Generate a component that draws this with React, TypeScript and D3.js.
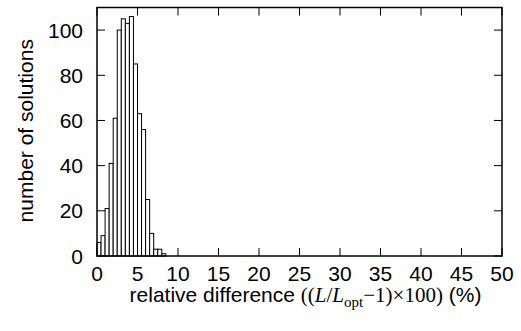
import React from 'react';
import * as d3 from 'd3';

// histogram of relative differences, bins of 0.5 %
const binWidth = 0.5;
const counts = [6, 9, 21, 41, 61, 100, 105, 103, 106, 85, 63, 56, 25, 10, 3, 3, 1];
const xTicks = [0, 5, 10, 15, 20, 25, 30, 35, 40, 45, 50];
const yTicks = [0, 20, 40, 60, 80, 100];

const W = 521;
const H = 331;
const margin = { top: 7.5, right: 19, bottom: 75, left: 97 };

const sans = '"Liberation Sans", Arial, sans-serif';
const serif = '"Liberation Serif", "Times New Roman", serif';
const fs = 21;

const App = () => {
  const x = d3.scaleLinear().domain([0, 50]).range([margin.left, W - margin.right]);
  const y = d3.scaleLinear().domain([0, 110]).range([H - margin.bottom, margin.top]);
  const [x0, x1] = x.range();
  const [y0, y1] = y.range();
  const tickLen = 8;

  return (
    <svg width={W} height={H} style={{ position: 'absolute', left: 0, top: 0, background: '#fff' }}>
      {/* bars */}
      {counts.map((c, i) => (
        <rect
          key={i}
          x={x(i * binWidth)}
          y={y(c)}
          width={x((i + 1) * binWidth) - x(i * binWidth)}
          height={y(0) - y(c)}
          fill="#fff"
          stroke="#000"
          strokeWidth={1}
        />
      ))}

      {/* ticks, mirrored on all sides */}
      {xTicks.map(t => (
        <g key={'x' + t}>
          <line x1={x(t)} x2={x(t)} y1={y0} y2={y0 - tickLen} stroke="#000" />
          <line x1={x(t)} x2={x(t)} y1={y1} y2={y1 + tickLen} stroke="#000" />
          <text x={x(t)} y={y0 + 25} textAnchor="middle" fontFamily={sans} fontSize={fs}>{t}</text>
        </g>
      ))}
      {yTicks.map(t => (
        <g key={'y' + t}>
          <line x1={x0} x2={x0 + tickLen} y1={y(t)} y2={y(t)} stroke="#000" />
          <line x1={x1} x2={x1 - tickLen} y1={y(t)} y2={y(t)} stroke="#000" />
          <text x={x0 - 14} y={y(t)} dy="0.36em" textAnchor="end" fontFamily={sans} fontSize={fs}>{t}</text>
        </g>
      ))}

      {/* frame */}
      <rect x={x0} y={y1} width={x1 - x0} height={y0 - y1} fill="none" stroke="#000" strokeWidth={1.5} />

      {/* axis titles */}
      <text
        transform={`translate(33,${(y0 + y1) / 2 - 1}) rotate(-90)`}
        textAnchor="middle"
        fontFamily={sans}
        fontSize={fs}
      >
        number of solutions
      </text>
      <text x={(x0 + x1) / 2 + 6} y={y0 + 46} textAnchor="middle" fontFamily={sans} fontSize={fs}>
        relative difference <tspan fontFamily={serif}>((</tspan>
        <tspan fontFamily={serif} fontStyle="italic">L</tspan>
        <tspan fontFamily={serif}>/</tspan>
        <tspan fontFamily={serif} fontStyle="italic">L</tspan>
        <tspan fontFamily={serif} fontSize={15} dy={5}>opt</tspan>
        <tspan fontFamily={serif} dy={-5}>−1)×100)</tspan> (%)
      </text>
    </svg>
  );
};

export default App;
